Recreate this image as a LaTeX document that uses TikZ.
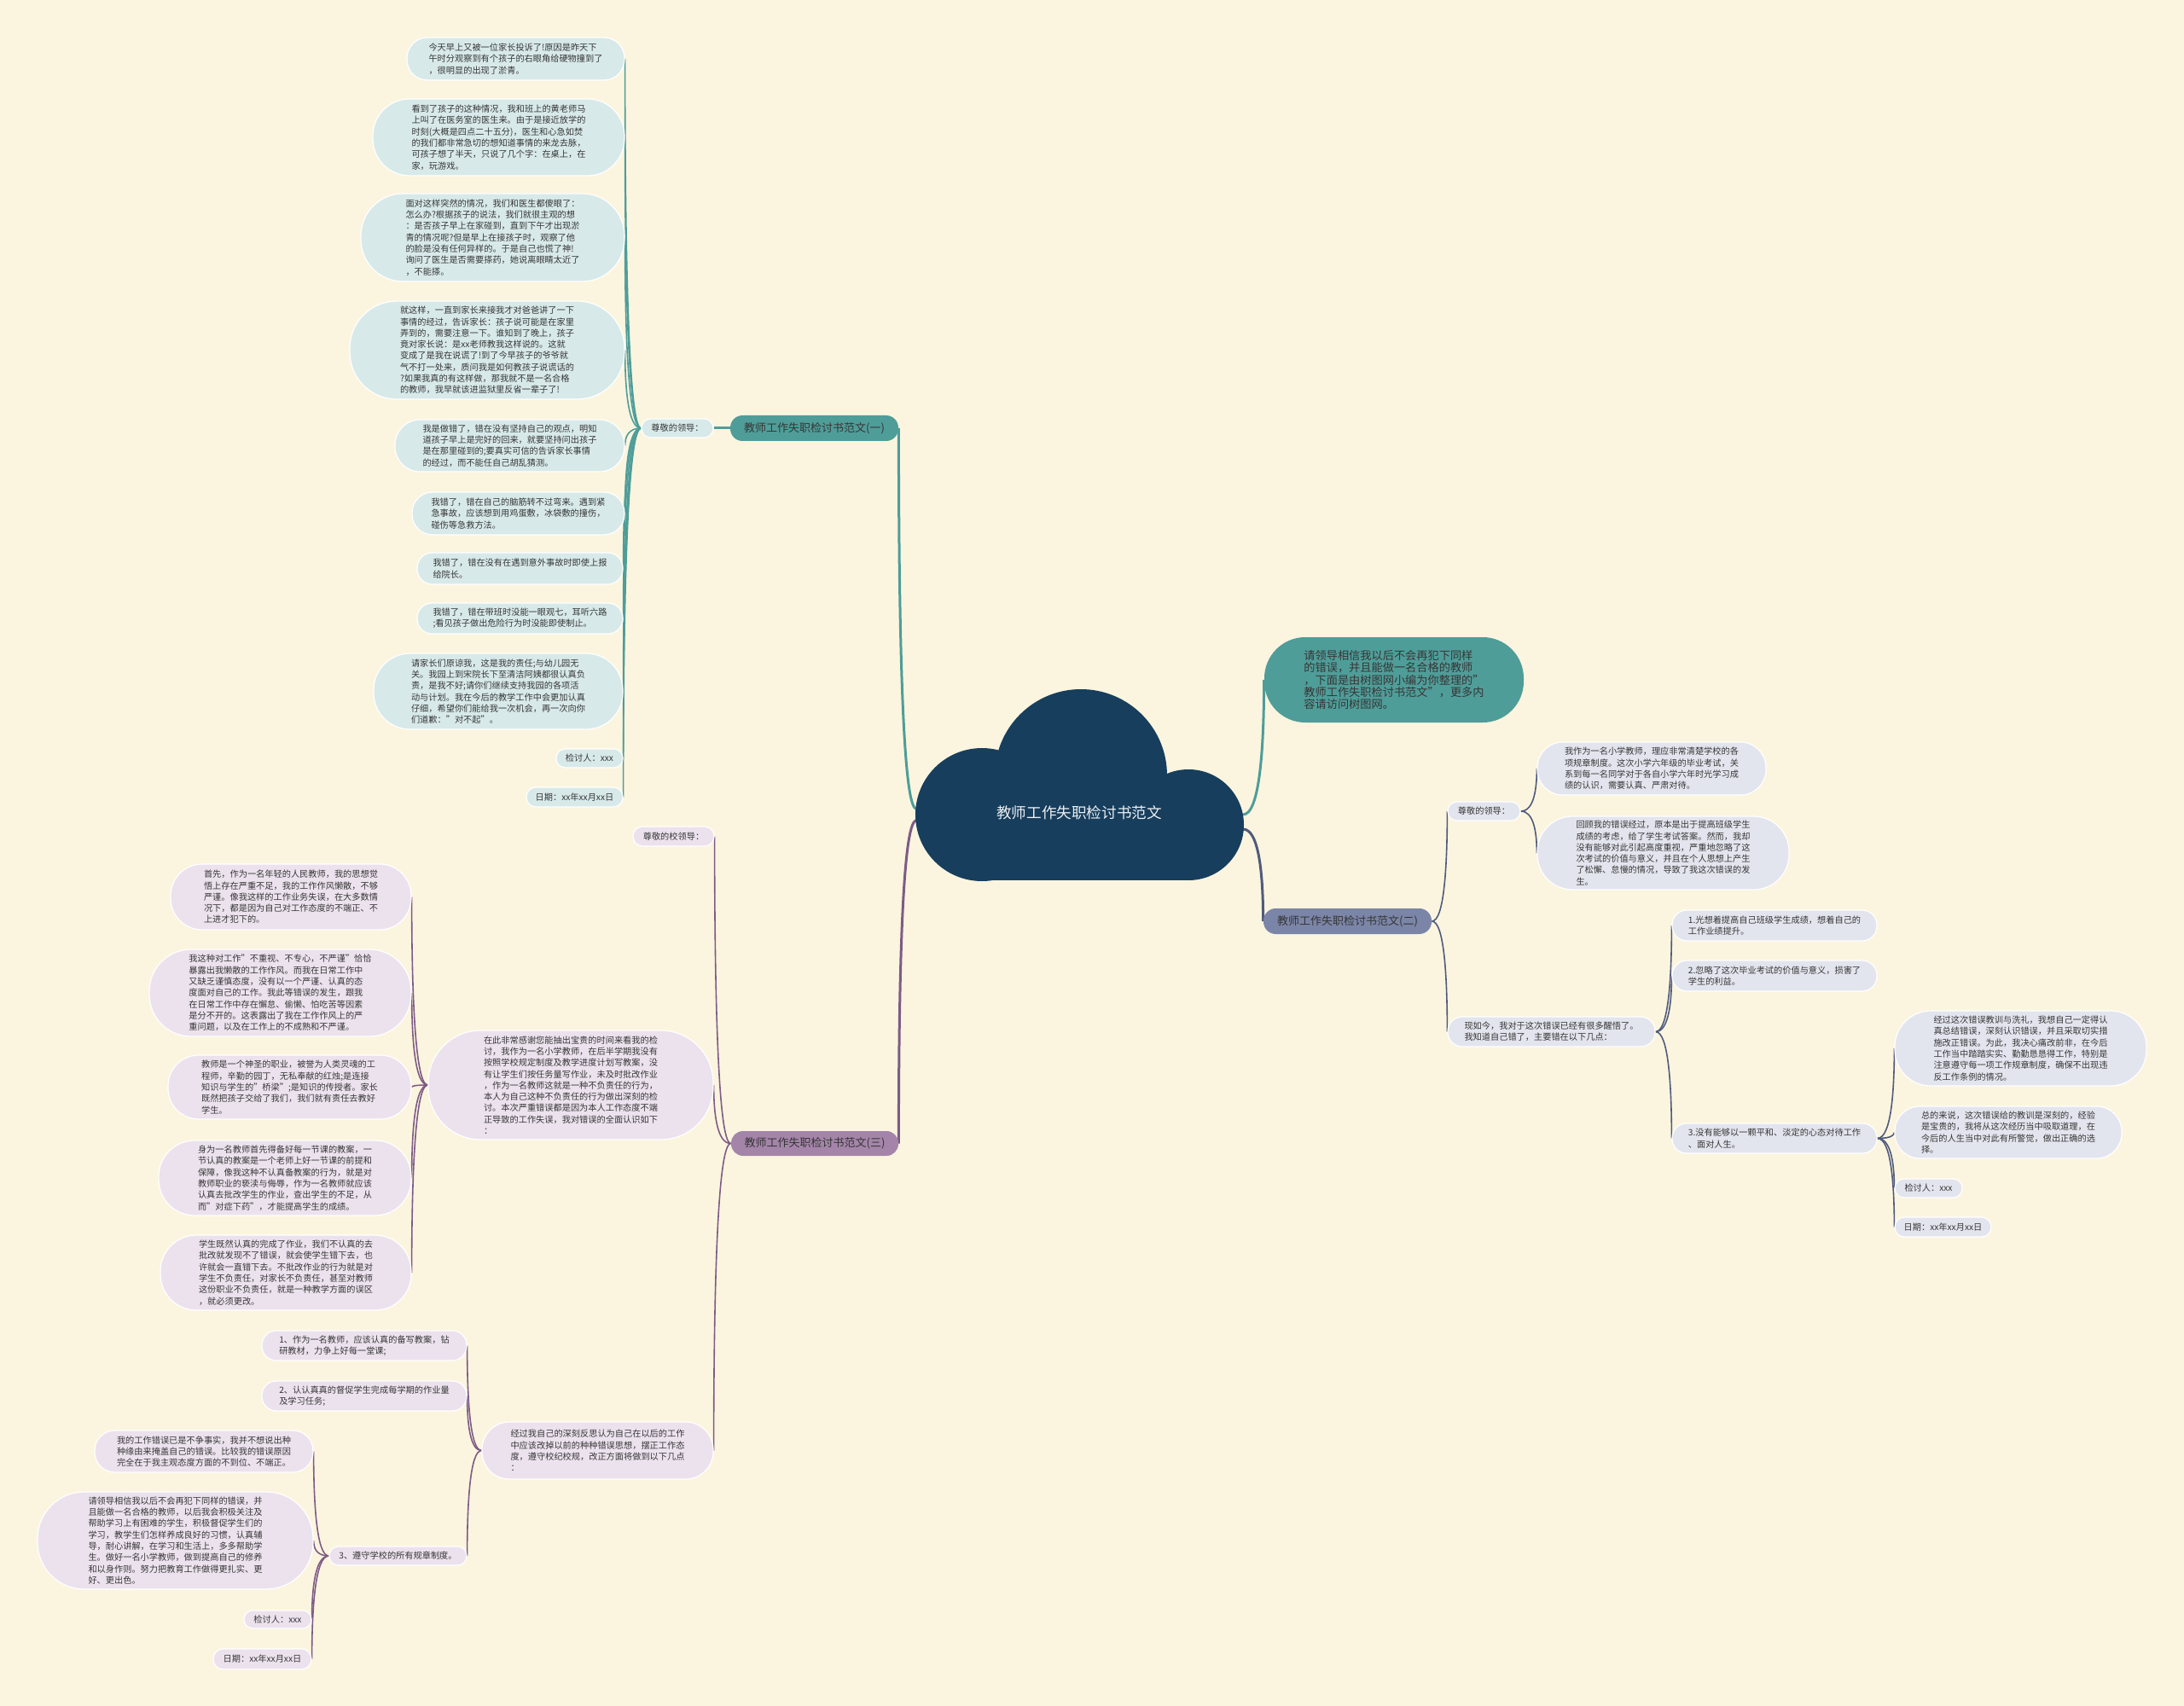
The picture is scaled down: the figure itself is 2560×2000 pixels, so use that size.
\documentclass[tikz,border=0pt]{standalone}
\usepackage{fontspec}
\setmainfont{Noto Sans CJK SC}
\usetikzlibrary{calc}
\definecolor{bgc}{HTML}{FBF5DF}
\definecolor{txt}{HTML}{363636}
\definecolor{navy}{HTML}{173E5D}
\definecolor{tealc}{HTML}{4F9D99}
\definecolor{tealbub}{HTML}{D8E9EA}
\definecolor{purc}{HTML}{A485A9}
\definecolor{purline}{HTML}{7E5B85}
\definecolor{purbub}{HTML}{ECE2EE}
\definecolor{slatec}{HTML}{7B85A7}
\definecolor{slateline}{HTML}{505A7C}
\definecolor{slatebub}{HTML}{E3E5EE}
\newcommand\fsmall{\fontsize{5.1pt}{6.65pt}\selectfont}
\newcommand\fintro{\fontsize{6.6pt}{7.2pt}\selectfont}
\newcommand\fbranch{\fontsize{6.5pt}{8pt}\selectfont}
\newcommand\fcloud{\fontsize{8.8pt}{10pt}\selectfont}
\newcommand\mmlink[3]{\draw[#1] (#2) .. controls ($(#2)!0.8!(#2 -| #3)$) and ($(#3)!0.5!(#3 |- #2)$) .. (#3);}
\pgfdeclarelayer{bgl}
\pgfdeclarelayer{lines}
\pgfsetlayers{bgl,lines,main}
\tikzset{
  wh/.style 2 args={minimum width=#1*0.5pt, minimum height=#2*0.5pt, rounded corners=#2*0.24pt},
  bub/.style={draw=white, line width=0.6pt, align=left, inner sep=0pt, font=\fsmall, text=txt},
  tb/.style={bub, fill=tealbub},
  pb/.style={bub, fill=purbub},
  gb/.style={bub, fill=slatebub},
  brn/.style={align=center, inner sep=0pt, font=\fbranch, text=txt},
  tline/.style={draw=tealc, line width=0.8pt},
  pline/.style={draw=purline, line width=0.8pt},
  sline/.style={draw=slateline, line width=0.8pt},
  tmain/.style={draw=tealc, line width=1.5pt},
  pmain/.style={draw=purline, line width=1.5pt},
  smain/.style={draw=slateline, line width=1.5pt},
}
\begin{document}
\begin{tikzpicture}[x=0.5pt,y=-0.5pt]
\begin{pgfonlayer}{bgl}
\fill[bgc] (0,0) rectangle (2560,2000);
\end{pgfonlayer}
\useasboundingbox (0,0) rectangle (2560,2000);

% ---------- central cloud ----------
\fill[navy] (1151,955) circle[radius=78];
\fill[navy] (1267,909) circle[radius=101];
\fill[navy] (1393,967) circle[radius=65];
\fill[navy] (1151,940) rectangle (1393,1032);
\node[font=\fcloud, text=white!92!navy] (ctr) at (1265,953) {教师工作失职检讨书范文};
\coordinate (cL1) at (1074,948);
\coordinate (cL2) at (1074,962);
\coordinate (cR1) at (1457,955);
\coordinate (cR2) at (1457,972);

% ---------- branch 1 (teal) ----------
\node[brn, fill=tealc, wh={197}{30}] (br1) at (954.5,502) {教师工作失职检讨书范文(一)};
\node[tb, wh={84}{22}, align=center] (s1) at (794,502) {尊敬的领导：};
\node[tb, wh={255}{50}] (b1) at (604.5,69) {今天早上又被一位家长投诉了!原因是昨天下\\午时分观察到有个孩子的右眼角给硬物撞到了\\，很明显的出现了淤青。};
\node[tb, wh={295}{90}] (b2) at (584.5,161) {看到了孩子的这种情况，我和班上的黄老师马\\上叫了在医务室的医生来。由于是接近放学的\\时刻(大概是四点二十五分)，医生和心急如焚\\的我们都非常急切的想知道事情的来龙去脉，\\可孩子想了半天，只说了几个字：在桌上，在\\家，玩游戏。};
\node[tb, wh={309}{103}] (b3) at (577.5,278.5) {面对这样突然的情况，我们和医生都傻眼了：\\怎么办?根据孩子的说法，我们就很主观的想\\：是否孩子早上在家碰到，直到下午才出现淤\\青的情况呢?但是早上在接孩子时，观察了他\\的脸是没有任何异样的。于是自己也慌了神!\\询问了医生是否需要搽药，她说离眼睛太近了\\，不能搽。};
\node[tb, wh={322}{115}] (b4) at (571,410.5) {就这样，一直到家长来接我才对爸爸讲了一下\\事情的经过，告诉家长：孩子说可能是在家里\\弄到的，需要注意一下。谁知到了晚上，孩子\\竟对家长说：是xx老师教我这样说的。这就\\变成了是我在说谎了!到了今早孩子的爷爷就\\气不打一处来，质问我是如何教孩子说谎话的\\?如果我真的有这样做，那我就不是一名合格\\的教师，我早就该进监狱里反省一辈子了!};
\node[tb, wh={269}{61}] (b5) at (597.5,522.5) {我是做错了，错在没有坚持自己的观点，明知\\道孩子早上是完好的回来，就要坚持问出孩子\\是在那里碰到的;要真实可信的告诉家长事情\\的经过，而不能任自己胡乱猜测。};
\node[tb, wh={249}{50}] (b6) at (607.5,602) {我错了，错在自己的脑筋转不过弯来。遇到紧\\急事故，应该想到用鸡蛋敷，冰袋敷的撞伤，\\碰伤等急救方法。};
\node[tb, wh={241}{37}] (b7) at (609.5,666.5) {我错了，错在没有在遇到意外事故时即使上报\\给院长。};
\node[tb, wh={241}{36}] (b8) at (609.5,725) {我错了，错在带班时没能一眼观七，耳听六路\\;看见孩子做出危险行为时没能即使制止。};
\node[tb, wh={292}{89}] (b9) at (584,810.5) {请家长们原谅我，这是我的责任;与幼儿园无\\关。我园上到宋院长下至清洁阿姨都很认真负\\责，是我不好;请你们继续支持我园的各项活\\动与计划。我在今后的教学工作中会更加认真\\仔细，希望你们能给我一次机会，再一次向你\\们道歉："对不起"。};
\node[tb, wh={78}{22}, align=center] (b10) at (691,889) {检讨人：xxx};
\node[tb, wh={113}{23}, align=center] (b11) at (673.5,934.5) {日期：xx年xx月xx日};

% ---------- intro node + branch 2 (slate) ----------
\node[fill=tealc, font=\fintro, text=txt, align=left, inner sep=0pt, wh={304}{100}] (intro) at (1634,797) {请领导相信我以后不会再犯下同样\\的错误，并且能做一名合格的教师\\，下面是由树图网小编为你整理的"\\教师工作失职检讨书范文"，更多内\\容请访问树图网。};
\node[brn, fill=slatec, wh={197}{30}] (br2) at (1579.5,1080) {教师工作失职检讨书范文(二)};
\node[gb, wh={85}{22}, align=center] (s2) at (1739.5,951) {尊敬的领导：};
\node[gb, wh={268}{62}] (r1) at (1936,901) {我作为一名小学教师，理应非常清楚学校的各\\项规章制度。这次小学六年级的毕业考试，关\\系到每一名同学对于各自小学六年时光学习成\\绩的认识，需要认真、严肃对待。};
\node[gb, wh={295}{86}] (r2) at (1949.5,1000) {回顾我的错误经过，原本是出于提高班级学生\\成绩的考虑，给了学生考试答案。然而，我却\\没有能够对此引起高度重视，严重地忽略了这\\次考试的价值与意义，并且在个人思想上产生\\了松懈、怠慢的情况，导致了我这次错误的发\\生。};
\node[gb, wh={243}{35}] (s3) at (1818.5,1209.5) {现如今，我对于这次错误已经有很多醒悟了。\\我知道自己错了，主要错在以下几点：};
\node[gb, wh={240}{36}] (q1) at (2080,1085) {1.光想着提高自己班级学生成绩，想着自己的\\工作业绩提升。};
\node[gb, wh={240}{36}] (q2) at (2080,1144) {2.忽略了这次毕业考试的价值与意义，损害了\\学生的利益。};
\node[gb, wh={240}{35}] (q3) at (2080,1334.5) {3.没有能够以一颗平和、淡定的心态对待工作\\、面对人生。};
\node[gb, wh={295}{88}] (t1) at (2368.5,1229) {经过这次错误教训与洗礼，我想自己一定得认\\真总结错误，深刻认识错误，并且采取切实措\\施改正错误。为此，我决心痛改前非，在今后\\工作当中踏踏实实、勤勤恳恳得工作，特别是\\注意遵守每一项工作规章制度，确保不出现违\\反工作条例的情况。};
\node[gb, wh={266}{61}] (t2) at (2354,1327.5) {总的来说，这次错误给的教训是深刻的，经验\\是宝贵的，我将从这次经历当中吸取道理，在\\今后的人生当中对此有所警觉，做出正确的选\\择。};
\node[gb, wh={79}{22}, align=center] (t3) at (2260.5,1393) {检讨人：xxx};
\node[gb, wh={113}{23}, align=center] (t4) at (2277.5,1438.5) {日期：xx年xx月xx日};

% ---------- branch 3 (purple) ----------
\node[brn, fill=purc, wh={196}{29}] (br3) at (955,1340.5) {教师工作失职检讨书范文(三)};
\node[pb, wh={95}{23}, align=center] (s4) at (789.5,980.5) {尊敬的校领导：};
\node[pb, wh={334}{128}] (m1) at (669,1272) {在此非常感谢您能抽出宝贵的时间来看我的检\\讨，我作为一名小学教师，在后半学期我没有\\按照学校规定制度及教学进度计划写教案，没\\有让学生们按任务量写作业，未及时批改作业\\，作为一名教师这就是一种不负责任的行为，\\本人为自己这种不负责任的行为做出深刻的检\\讨。本次严重错误都是因为本人工作态度不端\\正导致的工作失误，我对错误的全面认识如下\\：};
\node[pb, wh={282}{77}] (l1) at (341,1051.5) {首先，作为一名年轻的人民教师，我的思想觉\\悟上存在严重不足，我的工作作风懒散，不够\\严谨。像我这样的工作业务失误，在大多数情\\况下，都是因为自己对工作态度的不端正、不\\上进才犯下的。};
\node[pb, wh={307}{102}] (l2) at (328.5,1164) {我这种对工作"不重视、不专心，不严谨"恰恰\\暴露出我懒散的工作作风。而我在日常工作中\\又缺乏谨慎态度，没有以一个严谨、认真的态\\度面对自己的工作。我此等错误的发生，跟我\\在日常工作中存在懈怠、偷懒、怕吃苦等因素\\是分不开的。这表露出了我在工作作风上的严\\重问题，以及在工作上的不成熟和不严谨。};
\node[pb, wh={285}{75}] (l3) at (339.5,1274.5) {教师是一个神圣的职业，被誉为人类灵魂的工\\程师，辛勤的园丁，无私奉献的红烛;是连接\\知识与学生的"桥梁";是知识的传授者。家长\\既然把孩子交给了我们，我们就有责任去教好\\学生。};
\node[pb, wh={296}{88}] (l4) at (334,1381) {身为一名教师首先得备好每一节课的教案，一\\节认真的教案是一个老师上好一节课的前提和\\保障，像我这种不认真备教案的行为，就是对\\教师职业的亵渎与侮辱，作为一名教师就应该\\认真去批改学生的作业，查出学生的不足，从\\而"对症下药"，才能提高学生的成绩。};
\node[pb, wh={294}{88}] (l5) at (335,1492) {学生既然认真的完成了作业，我们不认真的去\\批改就发现不了错误，就会使学生错下去，也\\许就会一直错下去。不批改作业的行为就是对\\学生不负责任，对家长不负责任，甚至对教师\\这份职业不负责任，就是一种教学方面的误区\\，就必须更改。};
\node[pb, wh={271}{67}] (m2) at (700.5,1700.5) {经过我自己的深刻反思认为自己在以后的工作\\中应该改掉以前的种种错误思想，摆正工作态\\度，遵守校纪校规，改正方面将做到以下几点\\：};
\node[pb, wh={240}{35}] (c1) at (427,1577.5) {1、作为一名教师，应该认真的备写教案，钻\\研教材，力争上好每一堂课;};
\node[pb, wh={240}{35}] (c2) at (427,1636.5) {2、认认真真的督促学生完成每学期的作业量\\及学习任务;};
\node[pb, wh={161}{22}, align=center] (c3) at (466.5,1824) {3、遵守学校的所有规章制度。};
\node[pb, wh={256}{49}] (d1) at (239,1701.5) {我的工作错误已是不争事实，我并不想说出种\\种缘由来掩盖自己的错误。比较我的错误原因\\完全在于我主观态度方面的不到位、不端正。};
\node[pb, wh={323}{114}] (d2) at (205.5,1806) {请领导相信我以后不会再犯下同样的错误，并\\且能做一名合格的教师，以后我会积极关注及\\帮助学习上有困难的学生，积极督促学生们的\\学习，教学生们怎样养成良好的习惯，认真辅\\导，耐心讲解，在学习和生活上，多多帮助学\\生。做好一名小学教师，做到提高自己的修养\\和以身作则。努力把教育工作做得更扎实、更\\好、更出色。};
\node[pb, wh={79}{21}, align=center] (d3) at (325.5,1898.5) {检讨人：xxx};
\node[pb, wh={115}{24}, align=center] (d4) at (307.5,1945) {日期：xx年xx月xx日};

% ---------- connectors ----------
\begin{pgfonlayer}{lines}
\mmlink{tmain}{cL1}{br1.east}
\mmlink{pmain}{cL2}{br3.east}
\mmlink{tmain}{cR1}{intro.west}
\mmlink{smain}{cR2}{br2.west}
\draw[tmain] (br1.west) -- (s1.east);
\foreach \n in {b1,b2,b3,b4,b5,b6,b7,b8,b9,b10,b11} {\mmlink{tline}{s1.west}{\n.east}}
\foreach \n in {s2,s3} {\mmlink{sline}{br2.east}{\n.west}}
\foreach \n in {r1,r2} {\mmlink{sline}{s2.east}{\n.west}}
\foreach \n in {q1,q2,q3} {\mmlink{sline}{s3.east}{\n.west}}
\foreach \n in {t1,t2,t3,t4} {\mmlink{sline}{q3.east}{\n.west}}
\foreach \n in {s4,m1,m2} {\mmlink{pline}{br3.west}{\n.east}}
\foreach \n in {l1,l2,l3,l4,l5} {\mmlink{pline}{m1.west}{\n.east}}
\foreach \n in {c1,c2,c3} {\mmlink{pline}{m2.west}{\n.east}}
\foreach \n in {d1,d2,d3,d4} {\mmlink{pline}{c3.west}{\n.east}}
\end{pgfonlayer}
\end{tikzpicture}
\end{document}
